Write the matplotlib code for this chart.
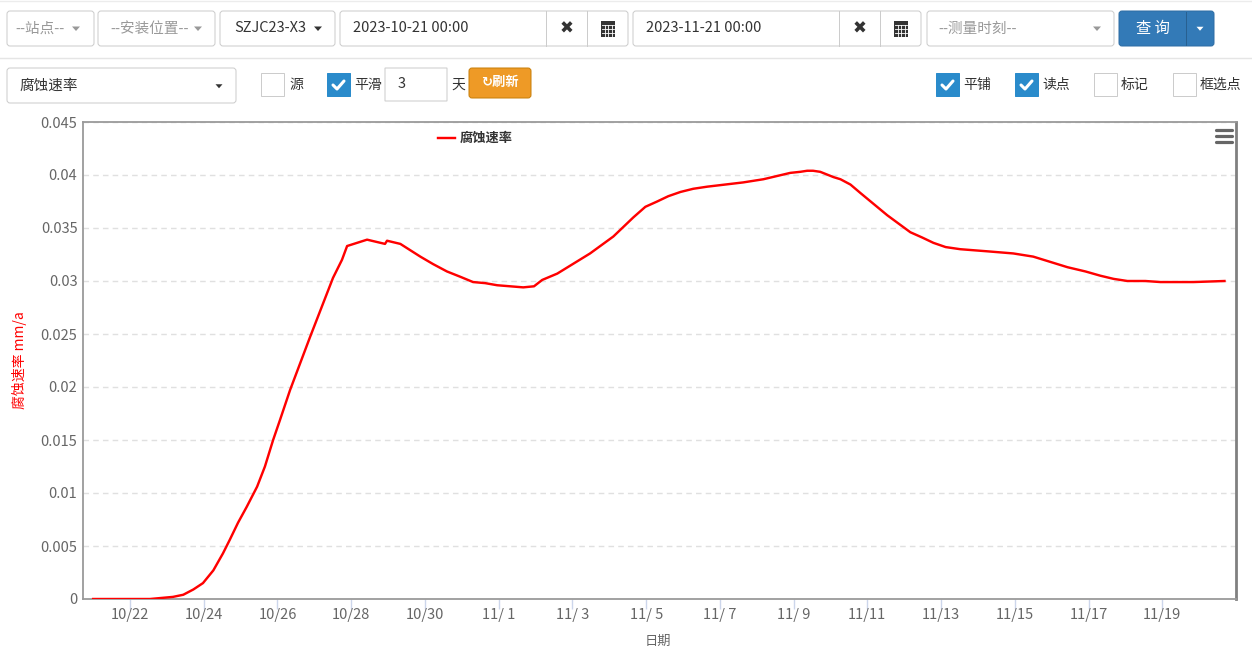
import matplotlib
matplotlib.use("Agg")
import matplotlib.pyplot as plt
import matplotlib.dates as mdates
from matplotlib.patches import FancyBboxPatch, Rectangle, Polygon
import pandas as pd

plt.rcParams['font.family'] = ['Noto Sans CJK SC', 'DejaVu Sans']

# series
times = ["2023-10-21 00:00", "2023-10-22 13:00", "2023-10-23 04:00", "2023-10-23 10:40",
         "2023-10-23 17:15", "2023-10-23 23:30", "2023-10-24 06:15", "2023-10-24 12:30",
         "2023-10-24 17:00", "2023-10-24 22:20", "2023-10-25 04:00", "2023-10-25 10:45",
         "2023-10-25 15:50", "2023-10-25 21:10", "2023-10-26 01:40", "2023-10-26 08:10",
         "2023-10-26 21:10", "2023-10-27 12:10", "2023-10-27 18:00", "2023-10-27 21:20",
         "2023-10-28 10:20", "2023-10-28 22:00", "2023-10-28 23:20", "2023-10-29 08:00",
         "2023-10-29 21:00", "2023-10-30 05:15", "2023-10-30 14:20", "2023-10-30 23:00",
         "2023-10-31 07:20", "2023-10-31 15:10", "2023-10-31 23:00", "2023-11-01 16:00",
         "2023-11-01 23:00", "2023-11-02 04:20", "2023-11-02 14:10", "2023-11-03 11:30",
         "2023-11-04 02:40", "2023-11-04 15:40", "2023-11-04 23:30", "2023-11-05 07:10",
         "2023-11-05 14:25", "2023-11-05 22:20", "2023-11-06 06:40", "2023-11-06 15:50",
         "2023-11-07 15:10", "2023-11-08 04:20", "2023-11-08 21:50", "2023-11-09 04:20",
         "2023-11-09 08:50", "2023-11-09 12:40", "2023-11-09 17:20", "2023-11-10 02:00",
         "2023-11-10 06:30", "2023-11-10 13:00", "2023-11-10 19:30", "2023-11-11 13:00",
         "2023-11-12 04:00", "2023-11-12 11:45", "2023-11-12 19:00", "2023-11-13 03:00",
         "2023-11-13 12:30", "2023-11-14 06:10", "2023-11-14 23:00", "2023-11-15 12:00",
         "2023-11-15 23:10", "2023-11-16 10:20", "2023-11-16 22:00", "2023-11-17 07:40",
         "2023-11-17 16:20", "2023-11-18 01:20", "2023-11-18 13:00", "2023-11-18 22:50",
         "2023-11-19 20:20", "2023-11-20 16:30"]
corrosion_rate = [0, 0, 0.0002, 0.0004,
                  0.0009, 0.0015, 0.0027, 0.0043,
                  0.0056, 0.0072, 0.0087, 0.0106,
                  0.0125, 0.0150, 0.0169, 0.0197,
                  0.0247, 0.0303, 0.0320, 0.0333,
                  0.0339, 0.0335, 0.0338, 0.0335,
                  0.0323, 0.0316, 0.0309, 0.0304,
                  0.0299, 0.0298, 0.0296, 0.0294,
                  0.0295, 0.0301, 0.0307, 0.0326,
                  0.0342, 0.0360, 0.0370, 0.0375,
                  0.0380, 0.0384, 0.0387, 0.0389,
                  0.0393, 0.0396, 0.0402, 0.0403,
                  0.0404, 0.0404, 0.0403, 0.0398,
                  0.0396, 0.0391, 0.0383, 0.0362,
                  0.0346, 0.0341, 0.0336, 0.0332,
                  0.0330, 0.0328, 0.0326, 0.0323,
                  0.0318, 0.0313, 0.0309, 0.0305,
                  0.0302, 0.0300, 0.0300, 0.0299,
                  0.0299, 0.0300]

x_tick_dates = ["2023-10-22", "2023-10-24", "2023-10-26", "2023-10-28", "2023-10-30",
                "2023-11-01", "2023-11-03", "2023-11-05", "2023-11-07", "2023-11-09",
                "2023-11-11", "2023-11-13", "2023-11-15", "2023-11-17", "2023-11-19"]
x_tick_labels = ["10/22", "10/24", "10/26", "10/28", "10/30", "11/ 1", "11/ 3", "11/ 5",
                 "11/ 7", "11/ 9", "11/11", "11/13", "11/15", "11/17", "11/19"]
y_ticks = [0, 0.005, 0.01, 0.015, 0.02, 0.025, 0.03, 0.035, 0.04, 0.045]
y_tick_labels = ["0", "0.005", "0.01", "0.015", "0.02", "0.025", "0.03", "0.035", "0.04", "0.045"]

W, H = 1252, 655
PX = 0.72  # one pixel in points
fig = plt.figure(figsize=(W / 100, H / 100), dpi=100)
fig.patch.set_facecolor('white')

# chart area
L, R, T, B = 83, 1236, 122, 599
ax = fig.add_axes([L / W, 1 - B / H, (R - L) / W, (B - T) / H])
dates = pd.to_datetime(times)
ax.plot(dates, corrosion_rate, color='#ff0000', lw=2 * PX + 0.3, solid_joinstyle='round', zorder=3)

base = mdates.date2num(pd.Timestamp("2023-10-21"))
ax.set_xlim(base - 0.275, base + 31.0)
ax.set_ylim(0, 0.045)
ax.set_xticks(mdates.date2num(pd.to_datetime(x_tick_dates)))
ax.set_xticklabels(x_tick_labels)
ax.set_yticks(y_ticks)
ax.set_yticklabels(y_tick_labels)
ax.tick_params(axis='x', direction='out', length=10 * PX, width=1, color='#ccd6eb',
               labelsize=10.5, labelcolor='#666666', pad=-1)
ax.tick_params(axis='y', length=0, labelsize=10.5, labelcolor='#666666', pad=4)
ax.grid(axis='y', color='#e0e0e0', ls=(0, (4, 3)), lw=1)
ax.set_axisbelow(True)
for s in ['top', 'left', 'bottom']:
    ax.spines[s].set_color('#9a9a9a')
    ax.spines[s].set_linewidth(1.3)
ax.spines['right'].set_color('#808080')
ax.spines['right'].set_linewidth(2)

# overlay in pixel coordinates for the page controls
ui = fig.add_axes([0, 0, 1, 1])
ui.set_xlim(0, W)
ui.set_ylim(H, 0)
ui.axis('off')
ui.patch.set_alpha(0)


def box(x0, y0, x1, y1, fc='white', ec='#cccccc', r=3, lw=1):
    ui.add_patch(FancyBboxPatch((x0, y0), x1 - x0, y1 - y0,
                                boxstyle=f"round,pad=0,rounding_size={r}",
                                fc=fc, ec=ec, lw=lw * PX))


def caret(x, y, color='#555555', s=4):
    ui.add_patch(Polygon([(x - s, y - s / 2), (x + s, y - s / 2), (x, y + s / 2 + 0.5)],
                         closed=True, fc=color, ec='none'))


def checkbox(x, y, checked):
    if checked:
        ui.add_patch(Rectangle((x, y), 23, 23, fc='#2a8bcb', ec='#2a8bcb', lw=PX))
        ui.plot([x + 6, x + 10, x + 17], [y + 12, y + 16, y + 8], color='white',
                lw=2.2, solid_capstyle='round', solid_joinstyle='round')
    else:
        ui.add_patch(Rectangle((x, y), 23, 23, fc='white', ec='#cccccc', lw=PX))


def calendar(x, y):
    ui.add_patch(Rectangle((x - 7, y - 8), 14, 16, fc='#333333', ec='none'))
    for yy in [y - 3.5, y + 0.5, y + 4]:
        ui.plot([x - 6, x + 6], [yy, yy], color='white', lw=0.6)
    for xx in [x - 3.5, x, x + 3.5]:
        ui.plot([xx, xx], [y - 3.5, y + 7], color='white', lw=0.6)


def clear_icon(x, y):
    ui.text(x, y, '✖', ha='center', va='center', fontsize=12, color='#333333',
            family=['DejaVu Sans'])


# separators
ui.plot([0, W], [1, 1], color='#ececec', lw=1)
ui.plot([0, W], [58, 58], color='#e5e5e5', lw=1)

# first row
y0, y1 = 11, 46
ym = (y0 + y1) / 2
box(7, y0, 94, y1)
ui.text(15, ym, '--站点--', ha='left', va='center', fontsize=10.5, color='#999999')
caret(76, ym, '#999999')
box(98, y0, 215, y1)
ui.text(110, ym, '--安装位置--', ha='left', va='center', fontsize=10.5, color='#999999')
caret(198, ym, '#999999')
box(220, y0, 335, y1)
ui.text(234, ym, 'SZJC23-X3', ha='left', va='center', fontsize=10.5, color='#333333')
caret(318, ym, '#333333')

for x0, label in [(340, '2023-10-21 00:00'), (633, '2023-11-21 00:00')]:
    box(x0, y0, x0 + 288, y1)
    ui.plot([x0 + 206, x0 + 206], [y0, y1], color='#cccccc', lw=PX)
    ui.plot([x0 + 247, x0 + 247], [y0, y1], color='#cccccc', lw=PX)
    ui.text(x0 + 13, ym, label, ha='left', va='center', fontsize=10.5, color='#333333')
    clear_icon(x0 + 227, ym)
    calendar(x0 + 268, ym)

box(927, y0, 1114, y1)
ui.text(938, ym, '--测量时刻--', ha='left', va='center', fontsize=10.5, color='#999999')
caret(1097, ym, '#999999')

box(1119, y0, 1214, y1, fc='#337ab7', ec='#2e6da4')
ui.plot([1186, 1186], [y0 + 1, y1 - 1], color='#286090', lw=PX)
ui.text(1153, ym, '查 询', ha='center', va='center', fontsize=11, color='white')
caret(1200, ym, 'white', s=3.5)

# second row
box(7, 68, 236, 103)
ui.text(19, 85.5, '腐蚀速率', ha='left', va='center', fontsize=10.5, color='#333333')
caret(219, 86, '#333333', s=3.5)

checkbox(261, 73, False)
ui.text(289, 84.5, '源', ha='left', va='center', fontsize=10, color='#333333')
checkbox(327, 73, True)
ui.text(354, 84.5, '平滑', ha='left', va='center', fontsize=10, color='#333333')
box(385, 68, 447, 101, r=0)
ui.text(398, 84.5, '3', ha='left', va='center', fontsize=10.5, color='#333333')
ui.text(451, 84.5, '天', ha='left', va='center', fontsize=10, color='#333333')
box(469, 68, 531, 98, fc='#ee9a26', ec='#c87f0a')
ui.text(500, 82, '↻刷新', ha='center', va='center', fontsize=9.5, color='white',
        fontweight='bold')

for x, checked, label in [(936, True, '平铺'), (1015, True, '读点'),
                          (1094, False, '标记'), (1173, False, '框选点')]:
    checkbox(x, 73, checked)
    ui.text(x + 27, 84.5, label, ha='left', va='center', fontsize=10, color='#333333')

# legend, menu button, axis titles
ui.plot([438, 455], [138, 138], color='#ff0000', lw=2 * PX + 0.3)
ui.text(460, 138, '腐蚀速率', ha='left', va='center', fontsize=9.5, color='#333333',
        fontweight='bold')
for yy in [130, 136, 142]:
    ui.plot([1216, 1232], [yy, yy], color='#666666', lw=2.3, solid_capstyle='round')
ui.text(20, 360, '腐蚀速率 mm/a', ha='center', va='center', rotation=90,
        fontsize=10, color='#ff0000')
ui.text(658, 641, '日期', ha='center', va='center', fontsize=9.5, color='#666666')

fig.savefig('out.png', dpi=100, facecolor='white')
